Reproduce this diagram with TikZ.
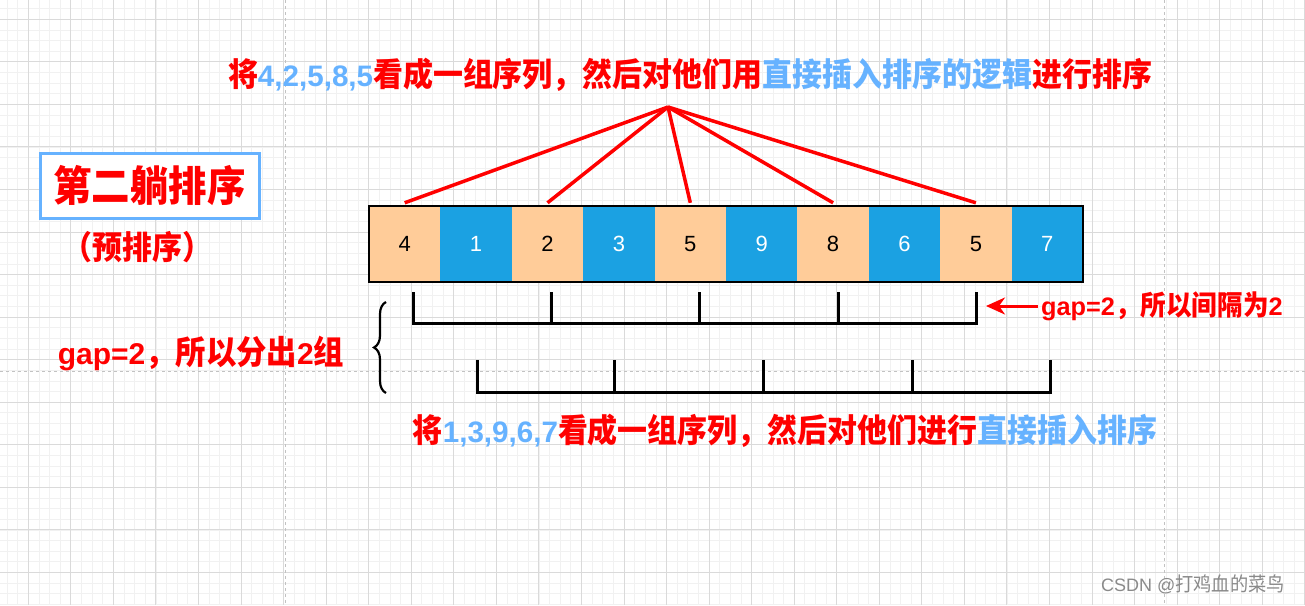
\documentclass[tikz,border=0pt]{standalone}
\usepackage{fontspec}
\setmainfont{Liberation Sans}
\newfontfamily\cjk[FakeStretch=0.92,Scale=1.1]{Noto Sans CJK SC}
\usetikzlibrary{arrows.meta,decorations.pathreplacing,calc}
\definecolor{zred}{HTML}{FF0000}
\definecolor{zblue}{HTML}{66B2FF}
\definecolor{peach}{HTML}{FFCC99}
\definecolor{cellblue}{HTML}{1BA1E2}
\definecolor{gmajor}{HTML}{DADADA}
\definecolor{gminor}{HTML}{F1F1F1}
\definecolor{pagebrk}{HTML}{C2C2C2}
\definecolor{wmgray}{HTML}{8A8A8A}
\newcommand\Z[1]{{\cjk #1}}
\newcommand\B[1]{{\color{zblue}#1}}
\begin{document}
\begin{tikzpicture}[x=1pt,y=-1pt,
  minorline/.style={gminor,line width=0.8pt},
  majorline/.style={gmajor,line width=1pt},
  pageline/.style={pagebrk,line width=1pt,dash pattern=on 3pt off 3pt},
  cellbase/.style={minimum width=71.4pt,minimum height=76pt,inner sep=0pt,font=\fontsize{22}{26}\selectfont},
  peachcell/.style={cellbase,fill=peach,text=black},
  bluecell/.style={cellbase,fill=cellblue,text=white},
  redline/.style={zred,line width=3.5pt},
  bracket/.style={black,line width=3pt,line join=miter},
  bigtext/.style={font=\bfseries\fontsize{29.6}{34}\selectfont,text=zred,inner sep=0pt},
  redarrow/.style={zred,line width=3pt,-{Stealth[length=19pt,width=17pt,inset=6pt]}}]
\useasboundingbox (0,0) rectangle (1305,605);
\fill[white] (0,0) rectangle (1305,605);
% grid
\begin{scope}
\clip (0,0) rectangle (1305,605);
\foreach \i in {-3,...,120} \draw[minorline] ({28.3+\i*10.6375},0) -- ({28.3+\i*10.6375},605);
\foreach \i in {-2,...,56} \draw[minorline] (0,{19.3+\i*10.6375}) -- (1305,{19.3+\i*10.6375});
\foreach \k in {0,...,30} \draw[majorline] ({28.3+\k*42.55},0) -- ({28.3+\k*42.55},605);
\foreach \k in {0,...,13} \draw[majorline] (0,{19.3+\k*42.55}) -- (1305,{19.3+\k*42.55});
\draw[pageline] (285,0) -- (285,605);
\draw[pageline] (1164,0) -- (1164,605);
\draw[pageline] (0,371) -- (1305,371);
\end{scope}
% title
\node[bigtext] (title) at (690,74.5) {\Z{将}\B{4,2,5,8,5}\Z{看成一组序列，然后对他们用}\B{\Z{直接插入排序的逻辑}}\Z{进行排序}};
% left box
\node[draw=zblue,line width=3pt,fill=white,minimum width=219pt,minimum height=65pt,inner sep=0pt,
  font=\bfseries\fontsize{38}{44}\selectfont,text=zred] (pass) at (149.5,185.5) {\Z{第二躺排序}};
\node[bigtext] (pre) at (137.5,247) {\Z{（预排序）}};
% cells
\foreach \v [count=\i] in {4,1,2,3,5,9,8,6,5,7} {
  \pgfmathsetmacro\cx{404.7+71.4*(\i-1)}
  \ifodd\i
    \node[peachcell] (c\i) at (\cx,244) {\v};
  \else
    \node[bluecell] (c\i) at (\cx,244) {\v};
  \fi
}
\draw[line width=2pt] (c1.north west) rectangle (c10.south east);
% fan lines
\coordinate (apex) at (668,107);
\foreach \c in {c1,c3,c5,c7,c9} \draw[redline] (apex) -- ([yshift=3pt]\c.north);
% brackets
\draw[bracket] (413,292) -- (413,323) -- (976,323) -- (976,292);
\foreach \x in {551,699,838} \draw[bracket] (\x,292) -- (\x,323);
\draw[bracket] (477,360) -- (477,392) -- (1050,392) -- (1050,360);
\foreach \x in {614,763,912} \draw[bracket] (\x,360) -- (\x,392);
% brace
\draw[decorate,decoration={brace,amplitude=12pt},line width=2.2pt] (386,393) -- (386,302);
% notes
\node[font=\bfseries\fontsize{30}{34}\selectfont,text=zred,inner sep=0pt] (leftnote) at (201,353) {gap=2\Z{，所以分出}2\Z{组}};
\node[font=\bfseries\fontsize{25.3}{29}\selectfont,text=zred,inner sep=0pt,anchor=west] (gapnote) at (1041,306) {gap=2\Z{，所以间隔为}2};
\coordinate (arrowtip) at (986,306);
\draw[redarrow] ([xshift=-3pt]gapnote.west) -- (arrowtip);
% bottom text
\node[bigtext] (bottomtext) at (785,431) {\Z{将}\B{1,3,9,6,7}\Z{看成一组序列，然后对他们进行}\B{\Z{直接插入排序}}};
% watermark
\node[font=\fontsize{18}{20}\selectfont,text=wmgray,inner sep=0pt] (wm) at (1193,584) {CSDN @\Z{打鸡血的菜鸟}};
\end{tikzpicture}
\end{document}
